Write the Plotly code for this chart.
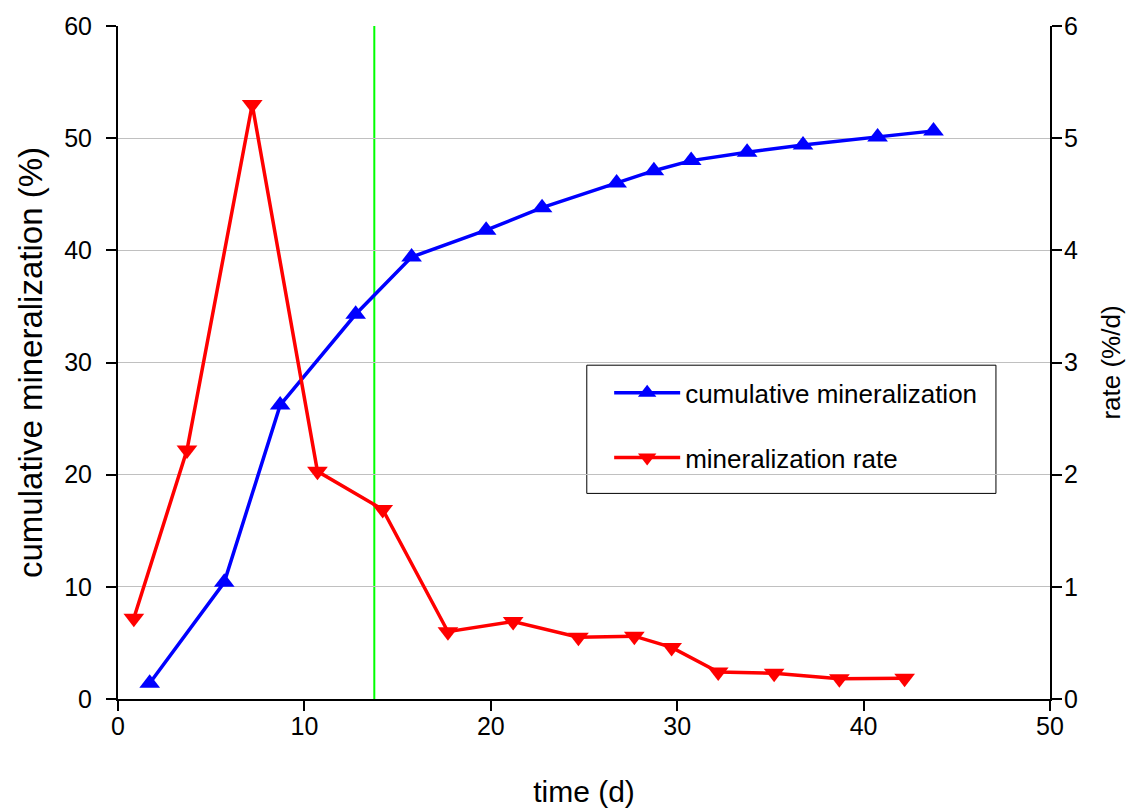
import plotly.graph_objects as go

# cumulative mineralization (%) vs time (d)
cum_days = [1.7, 5.7, 8.7, 12.75, 15.75, 19.75, 22.75, 26.75, 28.75, 30.75, 33.75, 36.75, 40.75, 43.75]
cum_values = [1.4, 10.4, 26.2, 34.3, 39.4, 41.8, 43.8, 46.0, 47.1, 48.0, 48.75, 49.4, 50.1, 50.65]

# mineralization rate (%/d) vs time (d)
rate_days = [0.85, 3.7, 7.2, 10.7, 14.2, 17.7, 21.2, 24.7, 27.7, 29.7, 32.2, 35.2, 38.7, 42.2]
rate_values = [0.72, 2.22, 5.3, 2.03, 1.69, 0.60, 0.69, 0.55, 0.56, 0.46, 0.24, 0.23, 0.18, 0.185]

marker_day = 13.75

x_ticks = [0, 10, 20, 30, 40, 50]
left_ticks = [0, 10, 20, 30, 40, 50, 60]
right_ticks = [0, 1, 2, 3, 4, 5, 6]

FONT = "Arial, Liberation Sans, sans-serif"

fig = go.Figure()

fig.add_trace(go.Scatter(
    x=cum_days, y=cum_values,
    name="cumulative mineralization",
    mode="lines+markers",
    line=dict(color="#0000FF", width=3.5),
    marker=dict(symbol="triangle-up", size=18, color="#0000FF"),
    legendgroup="a",
    yaxis="y",
))

fig.add_trace(go.Scatter(
    x=rate_days, y=rate_values,
    name="mineralization rate",
    mode="lines+markers",
    line=dict(color="#FF0000", width=3.5),
    marker=dict(symbol="triangle-down", size=18, color="#FF0000"),
    legendgroup="b",
    yaxis="y2",
))

fig.add_vline(x=marker_day, line=dict(color="#00FF00", width=2), layer="below")

# legend frame
fig.add_shape(type="rect", xref="paper", yref="paper",
              x0=0.503, x1=0.942, y0=0.3055, y1=0.496,
              line=dict(color="black", width=1), fillcolor="white", layer="below")

# the page body has an 8px margin; margins are fixed (no automargin)
fig.update_layout(
    width=1140, height=810,
    margin=dict(l=110, r=98, t=18, b=119),
    plot_bgcolor="white",
    paper_bgcolor="white",
    font=dict(family=FONT, size=25, color="black"),
    xaxis=dict(
        range=[0, 50], tickvals=x_ticks,
        showgrid=False, zeroline=False,
        showline=True, linecolor="black", linewidth=2,
        ticks="outside", ticklen=10, tickwidth=2, tickcolor="black",
        ticklabelstandoff=-6, automargin=False,
        title=dict(text="time (d)", font=dict(size=30), standoff=42),
    ),
    yaxis=dict(
        range=[0, 60], tickvals=left_ticks,
        showgrid=True, gridcolor="#c0c0c0", gridwidth=1,
        zeroline=False,
        showline=True, linecolor="black", linewidth=2,
        ticks="outside", ticklen=10, tickwidth=2, tickcolor="black",
        ticklabelstandoff=9, automargin=False,
        title=dict(text="cumulative mineralization (%)", font=dict(size=33), standoff=12),
    ),
    yaxis2=dict(
        range=[0, 6], tickvals=right_ticks,
        overlaying="y", side="right",
        showgrid=False, zeroline=False,
        showline=True, linecolor="black", linewidth=2,
        ticks="outside", ticklen=10, tickwidth=2, tickcolor="black",
        ticklabelstandoff=-3, automargin=False,
        title=dict(text="rate (%/d)", font=dict(size=26), standoff=25),
    ),
    legend=dict(
        x=0.527, y=0.49, xanchor="left", yanchor="top",
        bgcolor="rgba(0,0,0,0)", borderwidth=0,
        font=dict(size=26),
        itemwidth=66,
        tracegroupgap=28,
        traceorder="grouped",
    ),
)

fig.write_html("out.html")
